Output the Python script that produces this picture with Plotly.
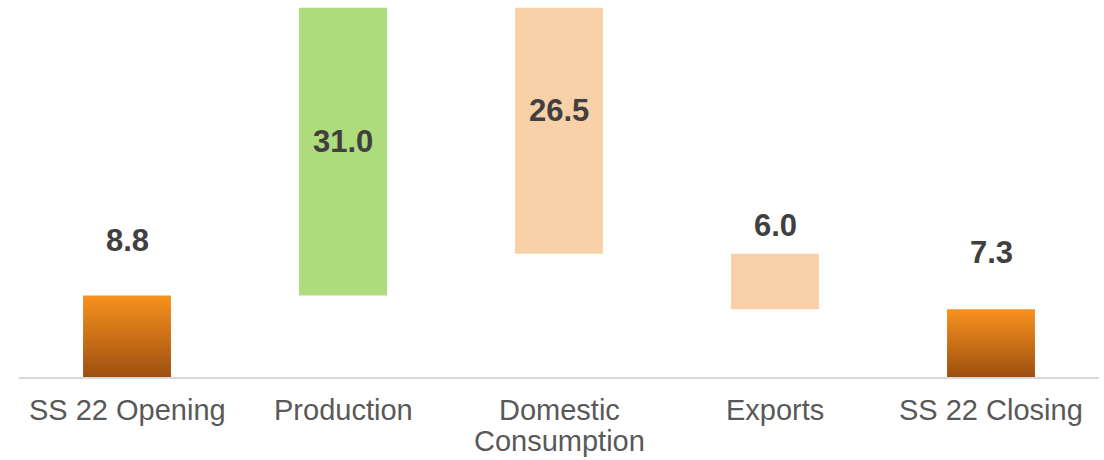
import plotly.graph_objects as go

categories = ["SS 22 Opening", "Production", "Domestic<br>Consumption", "Exports", "SS 22 Closing"]
values = [8.8, 31.0, -26.5, -6.0, 7.3]
kinds = ["total", "delta", "delta", "delta", "total"]
value_labels = ["8.8", "31.0", "26.5", "6.0", "7.3"]

# style
BAR_W = 0.407
GREEN = "#AEDB7C"
PEACH = "#F9D1A8"
ORANGE_TOP = "#F8921E"
ORANGE_BOT = "#9E4F10"
label_shift = [55, 10, 20, 28, 57]
CAT_FIRST = 33
CAT_LINE = 31

# waterfall computation
bases, tops = [], []
running = 0.0
for v, k in zip(values, kinds):
    if k == "total":
        b, t = 0.0, v
        running = v
    else:
        start = running
        running = running + v
        b, t = min(start, running), max(start, running)
    bases.append(b)
    tops.append(t)

fig = go.Figure()
xs = list(range(len(categories)))

for i, k in enumerate(kinds):
    if k == "total":
        x0, x1 = xs[i] - BAR_W / 2, xs[i] + BAR_W / 2
        fig.add_trace(go.Scatter(
            x=[x0, x1, x1, x0, x0],
            y=[bases[i], bases[i], tops[i], tops[i], bases[i]],
            mode="lines", line=dict(width=0), fill="toself",
            fillgradient=dict(type="vertical",
                              colorscale=[[0, ORANGE_BOT], [1, ORANGE_TOP]]),
            hoverinfo="skip", showlegend=False))
    else:
        fig.add_trace(go.Bar(
            x=[xs[i]], y=[tops[i] - bases[i]], base=[bases[i]],
            width=BAR_W,
            marker=dict(color=GREEN if values[i] > 0 else PEACH, line=dict(width=0)),
            showlegend=False, hoverinfo="skip"))

for i in range(len(categories)):
    if kinds[i] == "total" or i == 3:
        yref = tops[i]
    else:
        yref = (bases[i] + tops[i]) / 2
    fig.add_annotation(x=xs[i], y=yref, text=f"<b>{value_labels[i]}</b>",
                       showarrow=False, yanchor="middle", yshift=label_shift[i],
                       font=dict(family="Liberation Sans, Arial", size=31, color="#404040"))

# category labels (as text below the axis)
for i, cat in enumerate(categories):
    for j, line in enumerate(cat.split("<br>")):
        fig.add_annotation(x=xs[i], y=0, text=line, showarrow=False,
                           yanchor="middle", yshift=-(CAT_FIRST + j * CAT_LINE),
                           font=dict(family="Liberation Sans, Arial", size=29, color="#595959"))

fig.update_layout(
    width=1104, height=460,
    margin=dict(l=19, r=5, t=6, b=83),
    paper_bgcolor="white", plot_bgcolor="white",
    barmode="overlay",
    xaxis=dict(range=[-0.5, 4.5], tickmode="array", tickvals=xs, ticktext=categories,
               showticklabels=False,
               showgrid=False, zeroline=False, showline=True, linecolor="#D9D9D9",
               linewidth=2, ticks=""),
    yaxis=dict(range=[0, 40], visible=False, showgrid=False, zeroline=False),
)

fig.write_html("out.html")
